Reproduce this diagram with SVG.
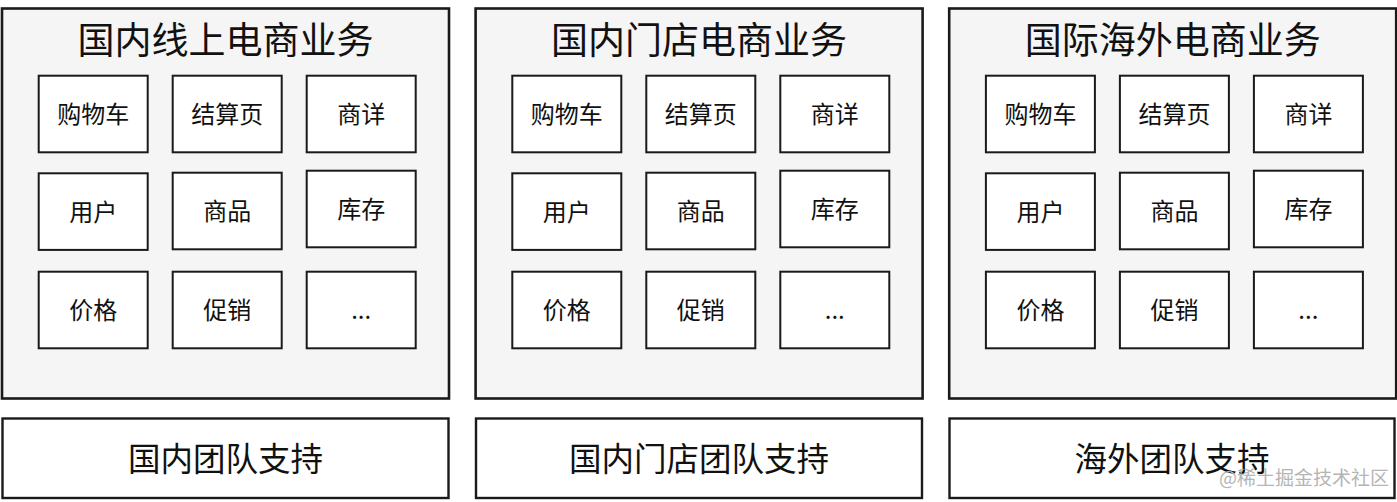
<svg xmlns="http://www.w3.org/2000/svg" width="1397" height="502" viewBox="0 0 1397 502">
<style>
.panel{fill:#f5f5f5;stroke:#1a1a1a;stroke-width:2.6}
.box{fill:#ffffff;stroke:#1a1a1a;stroke-width:2}
.team{fill:#ffffff;stroke:#1a1a1a;stroke-width:2.4}
text{font-family:"Noto Sans CJK SC","Noto Sans",sans-serif;fill:#111;text-anchor:middle}
.title{font-size:37px}
.lbl{font-size:24px}
.tl{font-size:32.5px}
.wm{font-size:19px;fill:#b5b5b5;text-anchor:start}
</style>
<defs>
<g id="grid">
<rect class="box" x="38.7" y="75.7" width="109" height="76.6"/>
<rect class="box" x="172.7" y="75.7" width="109" height="76.6"/>
<rect class="box" x="306.7" y="75.7" width="109" height="76.6"/>
<rect class="box" x="38.7" y="173.3" width="109" height="76.6"/>
<rect class="box" x="172.7" y="172.7" width="109" height="76.6"/>
<rect class="box" x="306.7" y="170.7" width="109" height="76.6"/>
<rect class="box" x="38.7" y="271.7" width="109" height="76.6"/>
<rect class="box" x="172.7" y="271.7" width="109" height="76.6"/>
<rect class="box" x="306.7" y="271.7" width="109" height="76.6"/>
<text class="lbl" x="93.2" y="123">购物车</text>
<text class="lbl" x="227.2" y="123">结算页</text>
<text class="lbl" x="361.2" y="123">商详</text>
<text class="lbl" x="93.2" y="220.5">用户</text>
<text class="lbl" x="227.2" y="220">商品</text>
<text class="lbl" x="361.2" y="218">库存</text>
<text class="lbl" x="93.2" y="319">价格</text>
<text class="lbl" x="227.2" y="319">促销</text>
<text class="lbl" x="361.2" y="319">...</text>
</g>
</defs>
<g id="panel-online">
<rect class="panel" x="2" y="8.5" width="447" height="390"/>
<text class="title" x="225.5" y="54">国内线上电商业务</text>
<use href="#grid"/>
</g>
<g id="panel-store" transform="translate(473.6,0)">
<rect class="panel" x="2" y="8.5" width="447" height="390"/>
<text class="title" x="225.5" y="54">国内门店电商业务</text>
<use href="#grid"/>
</g>
<g id="panel-intl" transform="translate(947.2,0)">
<rect class="panel" x="2" y="8.5" width="447" height="390"/>
<text class="title" x="225.5" y="54">国际海外电商业务</text>
<use href="#grid"/>
</g>
<g id="team-online">
<rect class="team" x="2.5" y="418.5" width="446" height="79.5"/>
<text class="tl" x="225.5" y="471">国内团队支持</text>
</g>
<g id="team-store">
<rect class="team" x="476" y="418.5" width="446" height="79.5"/>
<text class="tl" x="699" y="471">国内门店团队支持</text>
</g>
<g id="team-intl">
<rect class="team" x="949.5" y="418.5" width="445" height="79.5"/>
<text class="tl" x="1172" y="471">海外团队支持</text>
</g>
<g id="connectors"></g>
<text class="wm" x="1219" y="485">@稀土掘金技术社区</text>
</svg>
